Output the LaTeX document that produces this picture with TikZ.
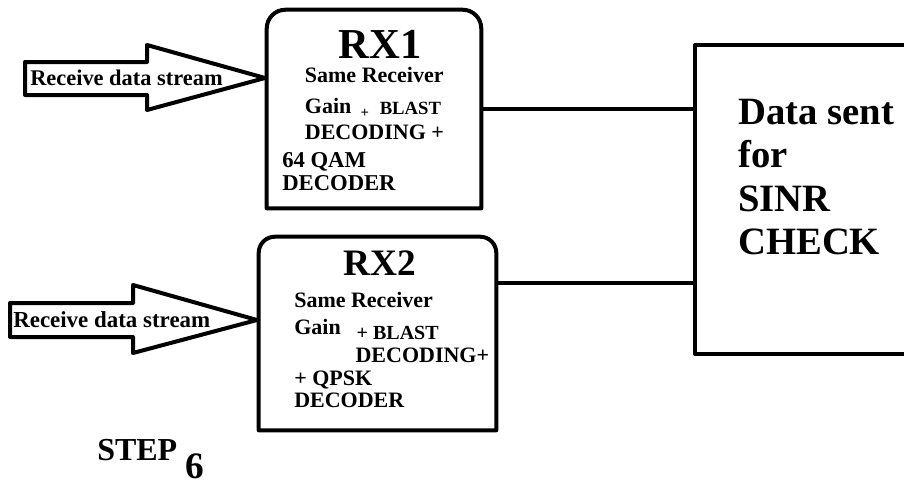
\documentclass[tikz,border=0pt]{standalone}
\usepackage{fontspec}
\setmainfont{Liberation Serif}
\newcommand{\fs}[2]{\fontsize{#1}{#2}\selectfont}

\begin{document}
\begin{tikzpicture}[x=0.75pt,y=-0.75pt,
  heavy/.style={line width=3pt,line join=round},
  txt/.style={inner sep=0pt,align=left},
  frame/.style={inner sep=0pt}]

\useasboundingbox (0,0) rectangle (904,489);
\clip (0,0) rectangle (904,489);

\node[frame,minimum width=160.5pt,minimum height=148.5pt] (rx1) at (374,109) {};
\draw[heavy] (rx1.south west) -- ([yshift=-14pt]rx1.north west) arc[start angle=180,end angle=90,radius=14pt]
  -- ([xshift=-14pt]rx1.north east) arc[start angle=90,end angle=0,radius=14pt] -- (rx1.south east) -- cycle;

\node[frame,minimum width=177.75pt,minimum height=144.75pt] (rx2) at (377.5,333.5) {};
\draw[heavy] (rx2.south west) -- ([yshift=-12pt]rx2.north west) arc[start angle=180,end angle=90,radius=12pt]
  -- ([xshift=-12pt]rx2.north east) arc[start angle=90,end angle=0,radius=12pt] -- (rx2.south east) -- cycle;

\node[frame,draw,heavy,anchor=north west,minimum width=240pt,minimum height=231.75pt] (data) at (693,43) {};

\draw[heavy] (25,62) -- (147,62) -- (147,45) -- (265,78) -- (147,110) -- (147,95) -- (25,95) -- cycle;
\node[txt,font=\bfseries\fs{16.8}{20},anchor=base west] (in1) at (30,85) {Receive data stream};

\draw[heavy] (10,303) -- (133,303) -- (133,285) -- (257,320) -- (133,353) -- (133,337) -- (10,337) -- cycle;
\node[txt,font=\bfseries\fs{17.2}{20},anchor=base west] (in2) at (13,327) {Receive data stream};

\node[txt,font=\bfseries\fs{32}{32},anchor=base] (t1) at (380,58) {RX1};
\node[txt,font=\bfseries\fs{16.5}{20},anchor=north west] (b1) at (282,67)
  {\hspace*{17pt}Same Receiver\\[3.25pt]
   \hspace*{17pt}Gain\hspace{7pt}\smash{\raisebox{-3pt}{\fs{11}{11}+}}\hspace{8pt}\smash{\raisebox{-1pt}{\fs{14}{14}BLAST}}\\[-0.5pt]
   \hspace*{17pt}DECODING +\\[1pt]
   \fs{17}{20}64 QAM\\[-2.75pt]
   \fs{17}{20}DECODER};

\node[txt,font=\bfseries\fs{28}{28},anchor=base] (t2) at (380,275) {RX2};
\node[txt,font=\bfseries\fs{16.5}{20},anchor=north west] (b2) at (294,292)
  {Same Receiver\\[0.25pt]
   Gain\hspace{12pt}\smash{\raisebox{-3.5pt}{\fs{15}{15}+ BLAST}}\\[1pt]
   \hspace*{46pt}DECODING+\\[-2.75pt]
   + QPSK\\[-3.5pt]
   DECODER};

\node[txt,font=\bfseries\fs{29}{32.5},anchor=north west] (msg) at (738,99) {Data sent\\for\\SINR\\CHECK};

\draw[heavy] (rx1.east) -- (data.west |- rx1.east);
\path (rx2.north east) ++(0,46) coordinate (o2);
\draw[heavy] (o2) -- (o2 -| data.west);

\node[txt,font=\bfseries\fs{24}{24},anchor=base west] (step) at (97,460) {STEP \raisebox{-13.5pt}{\fs{28}{28}6}};

\end{tikzpicture}
\end{document}
